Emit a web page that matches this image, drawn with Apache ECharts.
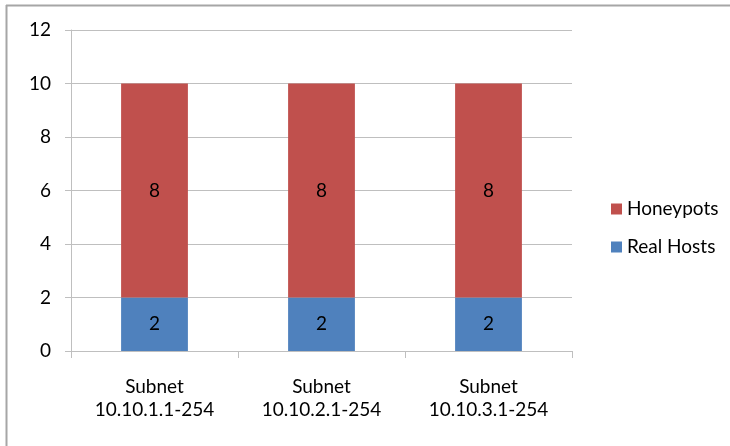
<!DOCTYPE html>
<html>
<head>
<meta charset="utf-8">
<script src="https://cdn.jsdelivr.net/npm/echarts@6/dist/echarts.min.js"></script>
<style>
  html, body { margin: 0; padding: 0; background: #fff; }
  #chart { width: 730px; height: 446px; }
</style>
</head>
<body>
<div id="chart"></div>
<script>
// Host counts per subnet
const categories = ['Subnet\n10.10.1.1-254', 'Subnet\n10.10.2.1-254', 'Subnet\n10.10.3.1-254'];
const realHosts = [2, 2, 2];
const honeypots = [8, 8, 8];

const FONT = 'Lato, "Liberation Sans", sans-serif';
const GRID_COLOR = '#bfbfbf';

const chart = echarts.init(document.getElementById('chart'));
chart.setOption({
  animation: false,
  backgroundColor: '#ffffff',
  graphic: [
    // frame lines along the top and left edges
    { type: 'line', shape: { x1: 6, y1: 5.5, x2: 730, y2: 5.5 }, style: { stroke: '#a6a6a6', lineWidth: 2 } },
    { type: 'line', shape: { x1: 6.5, y1: 5, x2: 6.5, y2: 446 }, style: { stroke: '#a6a6a6', lineWidth: 2 } }
  ],
  grid: { left: 71, right: 158, top: 30, bottom: 95 },
  legend: {
    orient: 'vertical',
    left: 606,
    top: 194,
    icon: 'rect',
    itemWidth: 11,
    itemHeight: 11,
    itemGap: 18,
    data: ['Honeypots', 'Real Hosts'],
    textStyle: { fontFamily: FONT, fontSize: 19, color: '#000', lineHeight: 20, padding: [0, 0, 0, 0] }
  },
  xAxis: {
    type: 'category',
    data: categories,
    axisLine: { lineStyle: { color: GRID_COLOR } },
    axisTick: { show: true, length: 7, lineStyle: { color: GRID_COLOR } },
    axisLabel: { fontFamily: FONT, fontSize: 19, color: '#000', lineHeight: 23, margin: 24 }
  },
  yAxis: {
    type: 'value',
    min: 0,
    max: 12,
    interval: 2,
    axisLine: { show: true, lineStyle: { color: GRID_COLOR } },
    axisTick: { show: true, length: 6, lineStyle: { color: GRID_COLOR } },
    splitLine: { lineStyle: { color: GRID_COLOR } },
    axisLabel: { fontFamily: FONT, fontSize: 19, color: '#000', margin: 20 }
  },
  series: [
    {
      name: 'Real Hosts',
      type: 'bar',
      stack: 'hosts',
      data: realHosts,
      barWidth: '40%',
      itemStyle: { color: '#4f81bd' },
      label: { show: true, position: 'inside', fontFamily: FONT, fontSize: 19, color: '#000' }
    },
    {
      name: 'Honeypots',
      type: 'bar',
      stack: 'hosts',
      data: honeypots,
      barWidth: '40%',
      itemStyle: { color: '#c0504d' },
      label: { show: true, position: 'inside', fontFamily: FONT, fontSize: 19, color: '#000' }
    }
  ]
});
</script>
</body>
</html>
